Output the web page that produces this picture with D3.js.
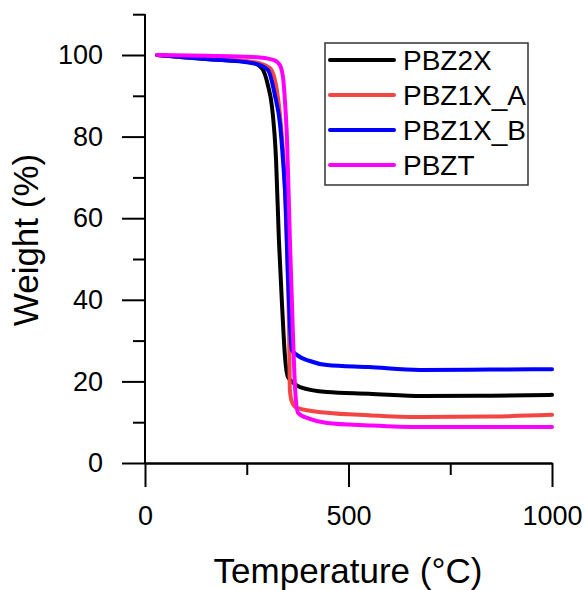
<!DOCTYPE html>
<html>
<head>
<meta charset="utf-8">
<script src="https://cdn.jsdelivr.net/npm/d3@7"></script>
<style>
  body { margin: 0; background: #fff; }
  svg text { font-family: "Liberation Sans", Arial, sans-serif; fill: #000; }
</style>
</head>
<body>
<svg id="chart" width="585" height="590"></svg>
<script>
// TGA curves
const pbz2xTemp   = [30, 150, 258, 287, 302, 312, 322, 329, 337, 344, 351, 365, 381, 447, 550, 683, 850, 1000];
const pbz2xWeight = [100, 99.0, 98.3, 96.8, 92.6, 87.3, 74.3, 54.7, 38.2, 26.0, 21.1, 19.6, 18.6, 17.4, 17.0, 16.4, 16.5, 16.7];

const pbz1xATemp   = [30, 150, 265, 307, 324, 334, 342, 349, 354, 356, 361, 373, 447, 550, 676, 850, 1000];
const pbz1xAWeight = [100, 99.1, 98.3, 96.8, 91.4, 82.8, 71.8, 52.2, 32.6, 17.9, 15.0, 13.5, 12.3, 11.7, 11.3, 11.4, 11.8];

const pbz1xBTemp   = [30, 150, 265, 302, 319, 332, 339, 346, 351, 356, 361, 373, 405, 447, 550, 676, 850, 1000];
const pbz1xBWeight = [100, 99.0, 98.0, 96.3, 90.2, 82.8, 74.3, 62.7, 46.6, 34.3, 27.7, 26.5, 25.0, 24.0, 23.5, 22.8, 22.9, 23.0];

const pbztTemp   = [30, 150, 265, 315, 331, 339, 344, 349, 356, 364, 369, 376, 405, 447, 550, 676, 850, 1000];
const pbztWeight = [100, 99.8, 99.5, 98.8, 97.6, 94.6, 88.5, 79.2, 54.7, 30.1, 17.9, 12.3, 10.8, 9.8, 9.2, 8.8, 8.8, 8.8];

const seriesNames  = ['PBZ2X', 'PBZ1X_A', 'PBZ1X_B', 'PBZT'];
const seriesColors = ['#000000', '#f44545', '#0000ff', '#ff00ff'];

const xMajor = [0, 500, 1000];
const xMinor = [250, 750];
const yMajor = [0, 20, 40, 60, 80, 100];
const yMinor = [10, 30, 50, 70, 90, 110];

const series = [
  {name: seriesNames[0], color: seriesColors[0], temp: pbz2xTemp, weight: pbz2xWeight},
  {name: seriesNames[1], color: seriesColors[1], temp: pbz1xATemp, weight: pbz1xAWeight},
  {name: seriesNames[2], color: seriesColors[2], temp: pbz1xBTemp, weight: pbz1xBWeight},
  {name: seriesNames[3], color: seriesColors[3], temp: pbztTemp, weight: pbztWeight}
];

const svg = d3.select('#chart');

const x = d3.scaleLinear().domain([0, 1000]).range([145, 552]);
const y = d3.scaleLinear().domain([0, 100]).range([463, 55]);

// x axis
const xAxisG = svg.append('g').attr('transform', `translate(0,${y(0)})`);
xAxisG.append('g')
  .call(d3.axisBottom(x).tickValues(xMinor).tickSize(12).tickSizeOuter(0).tickFormat(''));
xAxisG.append('g')
  .call(d3.axisBottom(x).tickValues(xMajor).tickSize(24).tickSizeOuter(0).tickPadding(19)
    .tickFormat(d => String(d)));

// y axis
const yAxisG = svg.append('g').attr('transform', `translate(${x(0)},0)`);
yAxisG.append('g')
  .call(d3.axisLeft(y).tickValues(yMinor).tickSize(12).tickSizeOuter(0).tickFormat(''));
yAxisG.append('g')
  .call(d3.axisLeft(y).tickValues(yMajor).tickSize(23).tickSizeOuter(0).tickPadding(19)
    .tickFormat(d => String(d)));

svg.selectAll('.domain').attr('stroke', '#000').attr('stroke-width', 2);
svg.selectAll('.tick line').attr('stroke', '#000').attr('stroke-width', 2);
svg.selectAll('.tick text').style('font-size', '27px').attr('fill', '#000');
// y domain should reach 110
yAxisG.selectAll('.domain').attr('d', `M0,${y(110)}V${y(0)}`);

// curves
const line = d3.line()
  .x(d => x(d[0]))
  .y(d => y(d[1]))
  .curve(d3.curveMonotoneX);

series.forEach(s => {
  const pts = s.temp.map((t, i) => [t, s.weight[i]]);
  svg.append('path')
    .datum(pts)
    .attr('fill', 'none')
    .attr('stroke', s.color)
    .attr('stroke-width', 4)
    .attr('stroke-linejoin', 'round')
    .attr('stroke-linecap', 'round')
    .attr('d', line);
});

// axis titles
svg.append('text')
  .attr('x', 348)
  .attr('y', 583)
  .attr('text-anchor', 'middle')
  .style('font-size', '35px')
  .text('Temperature (°C)');

svg.append('text')
  .attr('transform', 'translate(38,240) rotate(-90)')
  .attr('text-anchor', 'middle')
  .style('font-size', '35px')
  .text('Weight (%)');

// legend
const legend = svg.append('g');
legend.append('rect')
  .attr('x', 325).attr('y', 43)
  .attr('width', 203).attr('height', 142)
  .attr('fill', '#fff')
  .attr('stroke', '#333')
  .attr('stroke-width', 1.5);

series.forEach((s, i) => {
  const ly = 60 + i * 35;
  legend.append('line')
    .attr('x1', 330).attr('x2', 394)
    .attr('y1', ly).attr('y2', ly)
    .attr('stroke', s.color)
    .attr('stroke-width', 4)
    .attr('stroke-linecap', 'round');
  legend.append('text')
    .attr('x', 403)
    .attr('y', ly + 10)
    .style('font-size', '28px')
    .text(s.name);
});
</script>
</body>
</html>
